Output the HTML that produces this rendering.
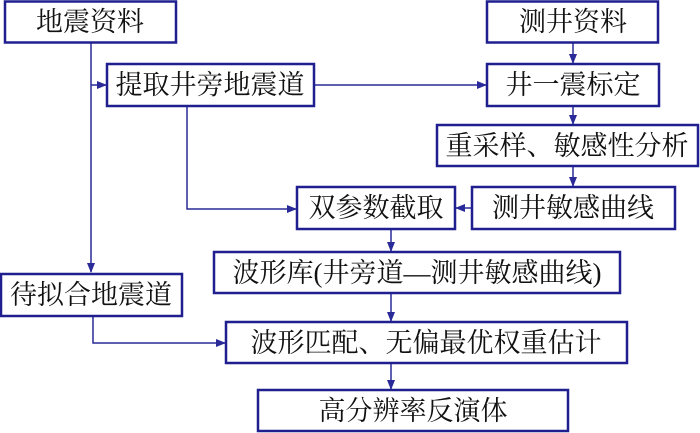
<!DOCTYPE html>
<html><head><meta charset="utf-8"><style>
html,body{margin:0;padding:0;background:#fff;}
svg{display:block}
text{font-family:"Liberation Serif","Noto Serif CJK SC",serif;font-size:27px;fill:#111;text-anchor:middle;dominant-baseline:central}
.b{fill:#fff;stroke:#1f1f8f;stroke-width:2.5}
.l{fill:none;stroke:#2a2a99;stroke-width:1.5}
</style></head><body>
<svg width="700" height="433" viewBox="0 0 700 433">
<defs><marker id="a" markerWidth="10" markerHeight="8" refX="9" refY="4" orient="auto" markerUnits="userSpaceOnUse"><path d="M0,0 L10,4 L0,8 z" fill="#2a2a99"/></marker></defs>
<path class="l" d="M91,42 V272" marker-end="url(#a)"/>
<path class="l" d="M91,85 H106" marker-end="url(#a)"/>
<path class="l" d="M314,85 H486" marker-end="url(#a)"/>
<path class="l" d="M187,106 V209 H296" marker-end="url(#a)"/>
<path class="l" d="M573,43 V63" marker-end="url(#a)"/>
<path class="l" d="M573,106 V124" marker-end="url(#a)"/>
<path class="l" d="M573,166 V186" marker-end="url(#a)"/>
<path class="l" d="M471,208 H456" marker-end="url(#a)"/>
<path class="l" d="M391,229 V251" marker-end="url(#a)"/>
<path class="l" d="M391,293 V321" marker-end="url(#a)"/>
<path class="l" d="M93,316 V343 H225" marker-end="url(#a)"/>
<path class="l" d="M391,363 V389" marker-end="url(#a)"/>
<rect class="b" x="5" y="1.5" width="171" height="41"/><text x="90" y="22">地震资料</text>
<rect class="b" x="487" y="1.5" width="171" height="41"/><text x="573" y="22">测井资料</text>
<rect class="b" x="107" y="64" width="207" height="42"/><text x="210" y="85">提取井旁地震道</text>
<rect class="b" x="487" y="64" width="172" height="42"/><text x="573" y="85">井一震标定</text>
<rect class="b" x="437" y="125" width="261" height="41"/><text x="567" y="146">重采样、敏感性分析</text>
<rect class="b" x="297" y="187" width="158" height="42"/><text x="376" y="208">双参数截取</text>
<rect class="b" x="472" y="187" width="203" height="42"/><text x="573" y="208">测井敏感曲线</text>
<rect class="b" x="214" y="252" width="406" height="41"/><text x="417" y="273">波形库(井旁道—测井敏感曲线)</text>
<rect class="b" x="1" y="274" width="181" height="42"/><text x="91" y="295">待拟合地震道</text>
<rect class="b" x="226" y="322" width="401" height="41"/><text x="426" y="343">波形匹配、无偏最优权重估计</text>
<rect class="b" x="258" y="390" width="310" height="41"/><text x="413" y="411">高分辨率反演体</text>
</svg>
</body></html>
